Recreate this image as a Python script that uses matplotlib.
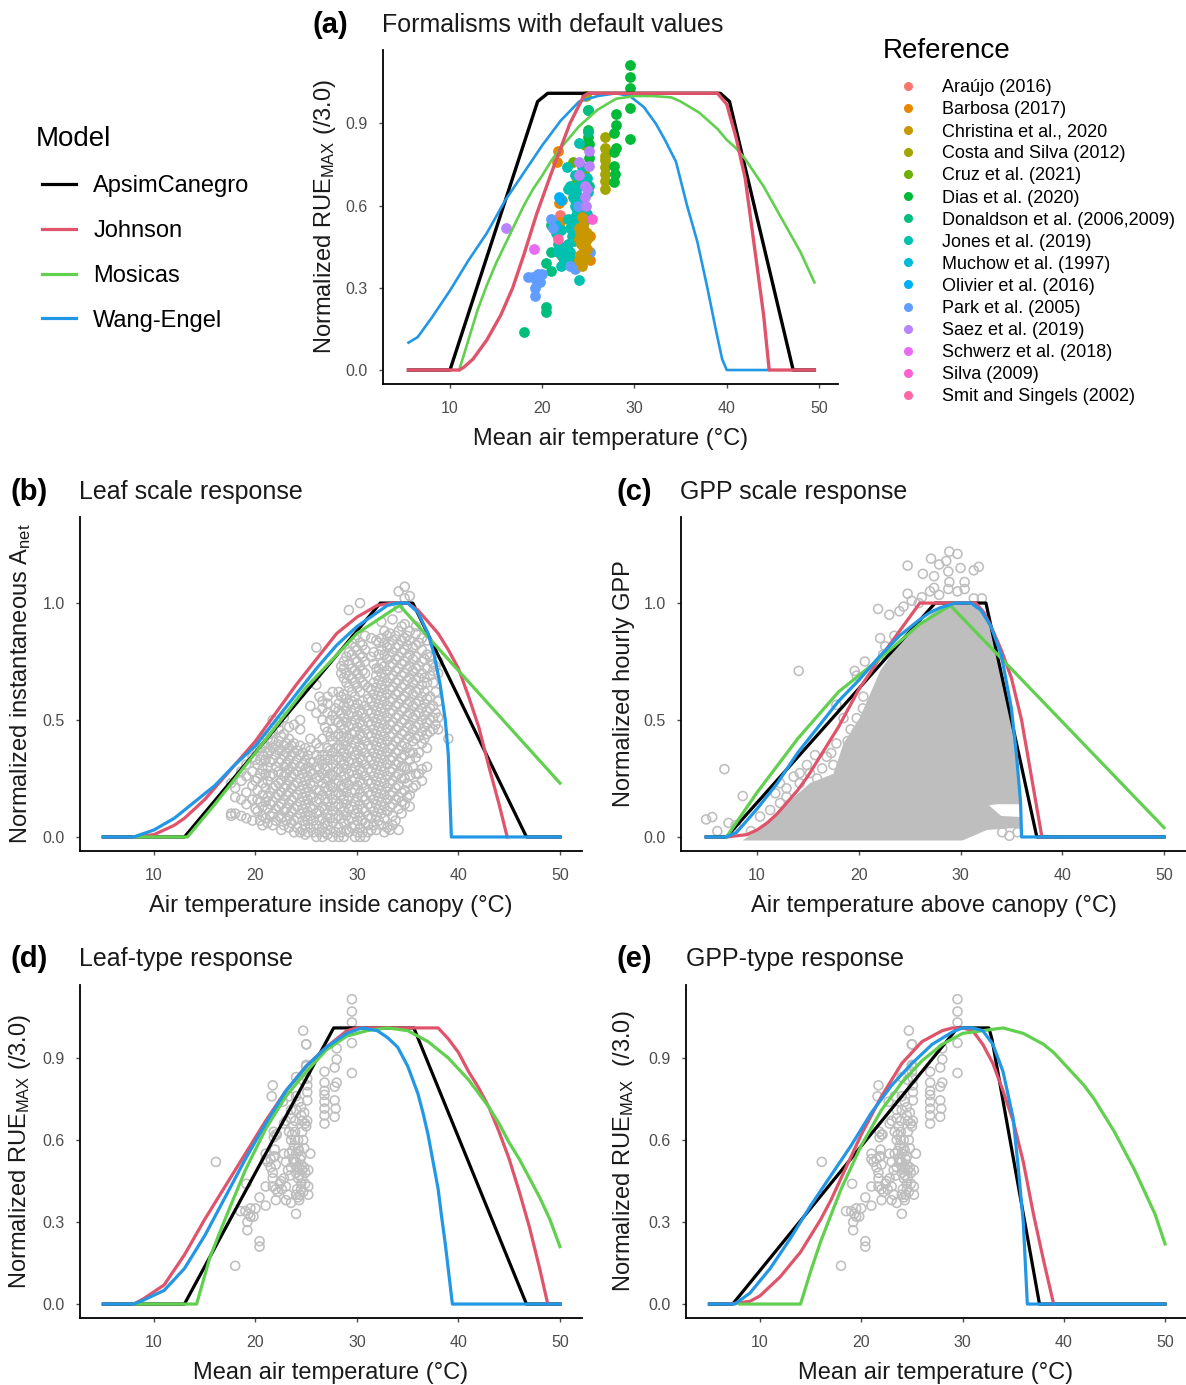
import matplotlib
matplotlib.use("Agg")
import matplotlib.pyplot as plt
from matplotlib.lines import Line2D
from matplotlib.legend_handler import HandlerLine2D

plt.rcParams['font.family'] = ['Liberation Sans', 'DejaVu Sans']
plt.rcParams['mathtext.default'] = 'regular'

W, H = 1186, 1385
GRAY = '#BEBEBE'

model_names = ['ApsimCanegro', 'Johnson', 'Mosicas', 'Wang-Engel']
model_colors = ['black', '#DF536B', '#61D04F', '#2297E6']

# (a) default values
a_black_x = [5.5, 10, 19.5, 20.6, 39.3, 40.3, 47.2, 49.5]
a_black_y = [0, 0, 0.98, 1.01, 1.01, 0.98, 0, 0]
a_red_x = [5.5, 11, 11.5, 12.5, 14, 15.5, 16.8, 18, 19.4, 21, 23, 24.5, 25, 39, 40, 41, 42, 43, 44, 44.6, 49.5]
a_red_y = [0, 0, 0.01, 0.04, 0.11, 0.2, 0.3, 0.42, 0.57, 0.72, 0.9, 1.0, 1.01, 1.01, 0.97, 0.85, 0.7, 0.45, 0.2, 0, 0]
a_green_x = [11, 12, 13, 14, 15, 16, 17, 18, 19, 20, 21, 22, 23, 24, 25, 26, 27, 28, 29, 30, 32, 34, 35, 36, 37, 38, 39, 40, 41, 42, 43, 44, 45, 46, 47, 48, 49.5]
a_green_y = [0, 0.11, 0.22, 0.31, 0.39, 0.46, 0.53, 0.6, 0.66, 0.71, 0.765, 0.81, 0.85, 0.89, 0.92, 0.95, 0.97, 0.99, 0.995, 1.0, 1.0, 0.995, 0.98, 0.96, 0.94, 0.91, 0.88, 0.84, 0.81, 0.77, 0.72, 0.67, 0.61, 0.55, 0.49, 0.43, 0.32]
a_blue_x = [5.5, 6.5, 8, 10, 12, 14, 16, 18, 20, 22, 24, 26, 28, 29.5, 31, 32.3, 33.3, 34.5, 35.7, 36.8, 37.9, 38.8, 39.5, 40, 44.5]
a_blue_y = [0.1, 0.12, 0.19, 0.29, 0.4, 0.5, 0.62, 0.72, 0.82, 0.91, 0.98, 1.0, 1.01, 1.0, 0.96, 0.9, 0.84, 0.76, 0.6, 0.47, 0.3, 0.15, 0.04, 0, 0]

# (b) leaf scale
b_black_x = [5, 13, 32.3, 35.5, 46.7, 50]
b_black_y = [0, 0, 1.0, 1.0, 0, 0]
b_red_x = [8, 10, 11, 12, 13, 14, 15, 16, 18, 20, 22, 24, 26, 28, 30, 32, 33.5, 35, 36, 37, 38, 39, 40, 41, 42, 43, 44, 44.8]
b_red_y = [0, 0.01, 0.03, 0.05, 0.08, 0.12, 0.16, 0.21, 0.31, 0.41, 0.53, 0.65, 0.76, 0.87, 0.94, 0.99, 1.0, 1.0, 0.97, 0.92, 0.87, 0.8, 0.72, 0.6, 0.47, 0.3, 0.14, 0]
b_green_x = [8, 13.3, 16, 20, 25, 30, 34.2, 50]
b_green_y = [0, 0, 0.14, 0.36, 0.64, 0.87, 0.99, 0.23]
b_blue_x = [5, 8, 9, 10, 11, 12, 13, 14, 16, 18, 20, 22, 24, 26, 28, 30, 32, 33, 34, 35, 36, 37, 37.6, 38.2, 38.7, 39, 39.3, 50]
b_blue_y = [0, 0, 0.015, 0.03, 0.055, 0.08, 0.115, 0.15, 0.22, 0.31, 0.39, 0.5, 0.61, 0.72, 0.82, 0.9, 0.96, 0.99, 1.0, 1.0, 0.96, 0.87, 0.78, 0.65, 0.5, 0.35, 0, 0]

# (c) GPP scale
c_black_x = [5, 7, 27.5, 32.5, 37.5, 50]
c_black_y = [0, 0, 1.0, 1.0, 0, 0]
c_red_x = [7, 8, 9, 10, 11, 12, 13, 14, 15, 16, 17, 18, 20, 22, 24, 25, 26, 31.5, 32.3, 33, 34, 35, 36, 37, 38]
c_red_y = [0, 0.005, 0.01, 0.03, 0.06, 0.1, 0.15, 0.2, 0.26, 0.33, 0.4, 0.47, 0.63, 0.76, 0.88, 0.94, 1.0, 1.0, 0.96, 0.9, 0.8, 0.68, 0.5, 0.25, 0]
c_green_x = [7, 10, 14, 18, 22, 26, 29, 50]
c_green_y = [0.0, 0.19, 0.42, 0.62, 0.76, 0.91, 0.99, 0.04]
c_blue_x = [5, 7, 8, 10, 12, 14, 16, 18, 20, 22, 24, 26, 27, 28, 29.5, 31, 32, 33, 34, 35, 35.5, 35.9, 36, 50]
c_blue_y = [0, 0, 0.02, 0.12, 0.23, 0.36, 0.47, 0.58, 0.67, 0.77, 0.86, 0.93, 0.96, 0.98, 1.0, 1.0, 0.97, 0.9, 0.78, 0.55, 0.35, 0.15, 0, 0]

# (d) leaf type
d_black_x = [5, 13, 27.7, 35.6, 46.7, 50]
d_black_y = [0, 0, 1.01, 1.01, 0, 0]
d_red_x = [8, 9, 11, 13, 15, 17, 19, 21, 23, 25, 27, 29, 30, 38, 39, 40, 41, 42, 43, 44, 45, 46, 47, 48, 48.8]
d_red_y = [0, 0.02, 0.07, 0.18, 0.31, 0.43, 0.55, 0.67, 0.78, 0.87, 0.94, 1.0, 1.01, 1.01, 0.97, 0.92, 0.85, 0.79, 0.72, 0.63, 0.53, 0.41, 0.28, 0.13, 0]
d_green_x = [8, 14.2, 15.5, 17, 19, 21, 23, 25, 27, 29, 31, 33, 35, 37, 38, 39, 40, 41, 42, 43, 44, 45, 46, 47, 48, 49, 50]
d_green_y = [0, 0, 0.17, 0.31, 0.49, 0.64, 0.76, 0.85, 0.93, 0.98, 1.0, 1.01, 1.0, 0.96, 0.93, 0.9, 0.86, 0.82, 0.77, 0.72, 0.66, 0.59, 0.53, 0.46, 0.39, 0.31, 0.21]
d_blue_x = [5, 8, 9, 11, 13, 15, 17, 19, 21, 23, 25, 27, 29, 30.5, 32, 33, 34, 35, 35.5, 36, 36.5, 37, 37.5, 38, 38.3, 38.7, 39.4, 50]
d_blue_y = [0, 0, 0.015, 0.05, 0.13, 0.25, 0.39, 0.53, 0.66, 0.78, 0.87, 0.94, 0.99, 1.01, 1.0, 0.975, 0.94, 0.87, 0.82, 0.77, 0.7, 0.62, 0.52, 0.42, 0.33, 0.22, 0, 0]

# (e) GPP type
e_black_x = [5, 7.3, 29.5, 32.6, 32.9, 37.6, 50]
e_black_y = [0, 0, 1.01, 1.01, 0.97, 0, 0]
e_red_x = [7, 9, 10, 12, 14, 15, 16, 17, 18, 19, 20, 21, 22, 23, 24, 25, 26, 27, 28, 29, 30, 31, 32, 33, 34, 35, 36, 37, 38, 39]
e_red_y = [0, 0.01, 0.03, 0.1, 0.19, 0.25, 0.31, 0.38, 0.46, 0.54, 0.62, 0.69, 0.76, 0.82, 0.88, 0.92, 0.96, 0.98, 1.0, 1.01, 1.01, 1.0, 0.95, 0.88, 0.78, 0.67, 0.52, 0.33, 0.16, 0]
e_green_x = [8, 14, 15, 16, 18, 20, 22, 24, 26, 28, 30, 32, 34, 35, 36, 37, 38, 39, 40, 41, 42, 43, 44, 45, 46, 47, 48, 49, 50]
e_green_y = [0, 0, 0.12, 0.23, 0.42, 0.58, 0.71, 0.81, 0.89, 0.95, 0.99, 1.0, 1.01, 1.0, 0.99, 0.97, 0.95, 0.92, 0.88, 0.84, 0.8, 0.75, 0.69, 0.63, 0.56, 0.49, 0.41, 0.33, 0.22]
e_blue_x = [5, 7.5, 9, 11, 13, 15, 17, 19, 21, 23, 25, 27, 29, 30, 31, 32, 33, 34, 35, 35.5, 36, 36.4, 50]
e_blue_y = [0, 0, 0.04, 0.13, 0.24, 0.36, 0.47, 0.58, 0.7, 0.8, 0.88, 0.95, 0.995, 1.01, 1.01, 1.0, 0.95, 0.85, 0.68, 0.5, 0.3, 0, 0]

# observations per reference
ref_names = ['Araújo (2016)', 'Barbosa (2017)', 'Christina et al., 2020', 'Costa and Silva (2012)',
             'Cruz et al. (2021)', 'Dias et al. (2020)', 'Donaldson et al. (2006,2009)', 'Jones et al. (2019)',
             'Muchow et al. (1997)', 'Olivier et al. (2016)', 'Park et al. (2005)', 'Saez et al. (2019)',
             'Schwerz et al. (2018)', 'Silva (2009)', 'Smit and Singels (2002)']
ref_colors = ['#F8766D', '#E58700', '#C99800', '#A3A500', '#6BB100', '#00BA38', '#00BF7D', '#00C0AF',
              '#00BCD8', '#00B0F6', '#619CFF', '#B983FF', '#E76BF3', '#FD61D1', '#FF67A4']
ref_x = [
    [21.9, 21.8],
    [21.7, 21.6, 21.8, 22.1, 21.9, 24.2, 22.0, 25.2, 25.2],
    [24.0, 24.3, 24.6, 24.0, 24.4, 24.8, 24.2, 24.5, 24.1, 24.7, 24.2, 24.5, 24.0, 24.3, 24.6, 24.3,
     24.1, 24.5, 24.9, 24.3, 24.4, 24.9],
    [26.8, 26.8, 26.8, 26.8, 26.8, 26.8, 26.8, 26.8, 24.7],
    [24.6, 23.3, 24.5, 23.5, 23.3],
    [29.5, 29.5, 29.5, 29.5, 29.5, 28.0, 28.0, 27.8, 28.0, 27.8, 27.8, 27.9, 27.8, 25.0, 25.0, 25.0, 25.1, 25.1],
    [18.0, 20.4, 20.4, 21.0, 20.4, 21.0, 21.0, 25.0, 25.0, 25.1],
    [24.0, 22.0, 21.7, 21.7, 22.2, 22.8, 23.0, 22.0, 22.8, 23.0, 23.5, 24.0, 24.5, 24.8, 23.5, 23.6, 23.7,
     23.8, 22.8, 23.0, 24.5, 23.5, 22.7, 24.0, 25.0, 24.8, 23.4, 23.9, 24.2, 23.7, 23.2, 22.5, 22.4, 23.2, 21.5,
     23.9, 23.3, 24.3, 23.6, 22.6],
    [21.5, 23.8],
    [21.8, 22.0],
    [19.0, 18.5, 19.5, 20.0, 19.3, 19.8, 19.2, 19.2, 19.5, 21.0, 21.2, 23.0, 23.5, 25.2, 23.9],
    [16.1, 24.0, 24.0, 25.1, 25.1, 24.6, 24.9, 24.6, 24.7],
    [19.1],
    [25.4],
    [21.7],
]
ref_y = [
    [0.565, 0.54],
    [0.8, 0.76, 0.61, 0.62, 0.54, 0.57, 0.42, 0.49, 0.4],
    [0.52, 0.5, 0.49, 0.48, 0.53, 0.5, 0.46, 0.44, 0.42, 0.41, 0.39, 0.42, 0.4, 0.56, 0.46, 0.38,
     0.5, 0.51, 0.48, 0.47, 0.4, 0.44],
    [0.85, 0.81, 0.78, 0.765, 0.74, 0.715, 0.69, 0.66, 1.0],
    [0.82, 0.76, 0.72, 0.68, 0.55],
    [1.115, 1.07, 1.03, 0.955, 0.845, 0.935, 0.895, 0.865, 0.81, 0.795, 0.745, 0.715, 0.685, 0.95, 0.875, 0.85, 0.825, 0.775],
    [0.14, 0.23, 0.21, 0.36, 0.39, 0.43, 0.53, 0.95, 0.87, 0.67],
    [0.33, 0.38, 0.43, 0.46, 0.41, 0.46, 0.43, 0.51, 0.55, 0.52, 0.5, 0.55, 0.54, 0.57, 0.6, 0.62, 0.65,
     0.58, 0.66, 0.67, 0.69, 0.71, 0.74, 0.83, 0.65, 0.7, 0.47, 0.63, 0.6, 0.53, 0.49, 0.45, 0.44, 0.4, 0.5,
     0.67, 0.63, 0.74, 0.56, 0.42],
    [0.53, 0.52],
    [0.63, 0.62],
    [0.34, 0.34, 0.35, 0.35, 0.33, 0.32, 0.3, 0.27, 0.32, 0.55, 0.52, 0.38, 0.37, 0.43, 0.6],
    [0.52, 0.76, 0.71, 0.8, 0.745, 0.67, 0.66, 0.63, 0.6],
    [0.44],
    [0.55],
    [0.48],
]
draw_order = [0, 1, 3, 4, 5, 6, 7, 8, 9, 10, 11, 12, 13, 14, 2]

# instantaneous leaf measurements, one list of values per temperature column
leaf_t = [17.6, 18.0, 18.6, 19.1, 19.7, 20.2, 20.7, 21.2, 21.7, 22.3, 22.8, 23.3, 23.8, 24.4, 24.9, 25.4, 26.0, 26.6,
          27.1, 27.6, 28.2, 28.7, 29.2, 29.8, 30.3, 30.8, 31.4, 31.9, 32.4, 33.0, 33.5, 34.1, 34.7, 35.2, 35.8, 36.4,
          36.9, 37.5, 38.0, 39.0]
leaf_y = [
    [0.23, 0.09, 0.1],
    [0.17, 0.1, 0.21],
    [0.09, 0.16, 0.24, 0.28],
    [0.08, 0.14, 0.19, 0.26, 0.31],
    [0.07, 0.16, 0.22, 0.28, 0.34],
    [0.16, 0.11, 0.2, 0.25, 0.31, 0.37],
    [0.05, 0.13, 0.09, 0.18, 0.23, 0.29, 0.35, 0.4],
    [0.06, 0.12, 0.17, 0.24, 0.3, 0.36, 0.42],
    [0.05, 0.1, 0.15, 0.21, 0.27, 0.33, 0.38, 0.41, 0.45, 0.5],
    [0.09, 0.13, 0.18, 0.23, 0.28, 0.32, 0.37, 0.41, 0.46, 0.49],
    [0.05, 0.11, 0.16, 0.21, 0.26, 0.3, 0.35, 0.39, 0.44, 0.51],
    [0.04, 0.09, 0.14, 0.19, 0.24, 0.29, 0.33, 0.38, 0.42, 0.47],
    [0.02, 0.07, 0.12, 0.17, 0.22, 0.27, 0.31, 0.36, 0.4, 0.48],
    [0.02, 0.1, 0.15, 0.2, 0.25, 0.3, 0.35, 0.39, 0.46, 0.5],
    [0.01, 0.05, 0.09, 0.14, 0.19, 0.24, 0.29, 0.33, 0.38],
    [0.04, 0.09, 0.13, 0.18, 0.23, 0.28, 0.32, 0.37, 0.42, 0.56],
    [0.0, 0.05, 0.1, 0.15, 0.2, 0.25, 0.3, 0.35, 0.4, 0.53, 0.65, 0.81],
    [0.0, 0.04, 0.08, 0.13, 0.18, 0.23, 0.27, 0.31, 0.35, 0.42, 0.5, 0.55, 0.58],
    [0.01, 0.05, 0.1, 0.15, 0.2, 0.25, 0.3, 0.35, 0.38, 0.45, 0.53, 0.57, 0.6],
    [0.0, 0.06, 0.11, 0.16, 0.21, 0.26, 0.31, 0.36, 0.41, 0.46, 0.52, 0.62],
    [0.0, 0.04, 0.09, 0.14, 0.19, 0.24, 0.29, 0.34, 0.39, 0.44, 0.49, 0.54, 0.57, 0.62],
    [0.0, 0.06, 0.11, 0.16, 0.21, 0.26, 0.31, 0.36, 0.41, 0.46, 0.51, 0.56, 0.61, 0.68, 0.72, 0.75],
    [0.02, 0.07, 0.12, 0.17, 0.22, 0.27, 0.32, 0.37, 0.42, 0.47, 0.52, 0.57, 0.64, 0.69, 0.74, 0.79, 0.97],
    [0.0, 0.05, 0.1, 0.15, 0.2, 0.25, 0.3, 0.35, 0.4, 0.45, 0.5, 0.55, 0.6, 0.66, 0.71, 0.76, 0.81, 0.85],
    [0.0, 0.04, 0.09, 0.14, 0.19, 0.24, 0.29, 0.34, 0.39, 0.44, 0.49, 0.54, 0.62, 0.68, 0.73, 0.78, 0.83, 1.0],
    [0.0, 0.06, 0.11, 0.16, 0.21, 0.26, 0.31, 0.36, 0.41, 0.46, 0.51, 0.56, 0.65, 0.7, 0.75, 0.8, 0.86],
    [0.03, 0.08, 0.13, 0.18, 0.23, 0.28, 0.33, 0.38, 0.43, 0.48, 0.53, 0.58, 0.63, 0.77, 0.85],
    [0.03, 0.09, 0.14, 0.19, 0.24, 0.29, 0.34, 0.39, 0.44, 0.49, 0.54, 0.59, 0.64, 0.69, 0.72, 0.84],
    [0.05, 0.1, 0.15, 0.2, 0.25, 0.3, 0.35, 0.4, 0.45, 0.5, 0.55, 0.6, 0.65, 0.7, 0.74, 0.8, 0.85, 0.92],
    [0.04, 0.11, 0.16, 0.21, 0.26, 0.31, 0.36, 0.41, 0.46, 0.51, 0.56, 0.61, 0.66, 0.71, 0.76, 0.81, 0.86],
    [0.05, 0.09, 0.14, 0.19, 0.24, 0.29, 0.34, 0.39, 0.44, 0.49, 0.54, 0.59, 0.64, 0.69, 0.74, 0.79, 0.84, 0.93],
    [0.03, 0.12, 0.17, 0.22, 0.27, 0.32, 0.37, 0.42, 0.47, 0.52, 0.57, 0.62, 0.67, 0.72, 0.77, 0.82, 0.88, 0.98, 1.05],
    [0.14, 0.2, 0.25, 0.3, 0.35, 0.4, 0.45, 0.5, 0.55, 0.6, 0.65, 0.7, 0.75, 0.8, 0.85, 0.91, 1.02, 1.07],
    [0.13, 0.18, 0.26, 0.33, 0.36, 0.43, 0.48, 0.53, 0.58, 0.63, 0.68, 0.73, 0.78, 0.84, 0.88, 1.03],
    [0.22, 0.27, 0.34, 0.42, 0.47, 0.52, 0.57, 0.62, 0.67, 0.72, 0.77, 0.82, 0.87, 0.9],
    [0.24, 0.29, 0.4, 0.45, 0.5, 0.55, 0.6, 0.65, 0.7, 0.75, 0.8, 0.85],
    [0.3, 0.38, 0.44, 0.49, 0.54, 0.59, 0.66, 0.72, 0.78, 0.84],
    [0.46, 0.51, 0.56, 0.66, 0.71, 0.74],
    [0.46, 0.51, 0.58, 0.7, 0.75],
    [0.42],
]
leaf2_t = [20.0, 20.45, 21.0, 21.45, 22.0, 22.55, 23.05, 23.55, 24.1, 24.65, 25.15, 25.7, 26.3, 26.85, 27.35, 27.9,
           28.45, 28.95, 29.5, 30.05, 30.55, 31.1, 31.65, 32.15, 32.7, 33.25, 33.8, 34.4, 34.95, 35.5, 36.1, 36.65,
           37.2, 37.75]
leaf2_y = [
    [0.12, 0.24, 0.33],
    [0.07, 0.15, 0.27, 0.33, 0.38],
    [0.08, 0.15, 0.21, 0.27, 0.33, 0.38],
    [0.09, 0.14, 0.19, 0.26, 0.32, 0.37, 0.44],
    [0.07, 0.12, 0.17, 0.22, 0.3, 0.35, 0.39],
    [0.03, 0.08, 0.14, 0.19, 0.24, 0.27, 0.33, 0.37, 0.43],
    [0.07, 0.12, 0.18, 0.22, 0.27, 0.31, 0.36, 0.4],
    [0.06, 0.11, 0.16, 0.21, 0.26, 0.3, 0.35, 0.39],
    [0.04, 0.08, 0.13, 0.18, 0.23, 0.28, 0.33, 0.37],
    [0.03, 0.07, 0.12, 0.17, 0.22, 0.27, 0.31, 0.36],
    [0.02, 0.07, 0.11, 0.16, 0.21, 0.26, 0.3, 0.35],
    [0.02, 0.07, 0.12, 0.17, 0.22, 0.27, 0.32],
    [0.02, 0.07, 0.11, 0.16, 0.2, 0.26, 0.29, 0.33, 0.38, 0.6],
    [0.02, 0.06, 0.12, 0.16, 0.21, 0.25, 0.29, 0.33, 0.47],
    [0.03, 0.08, 0.13, 0.18, 0.22, 0.27, 0.33, 0.37, 0.43, 0.5],
    [0.02, 0.08, 0.13, 0.18, 0.23, 0.28, 0.33, 0.38, 0.43, 0.5, 0.55],
    [0.02, 0.08, 0.13, 0.18, 0.22, 0.28, 0.33, 0.38, 0.43, 0.48, 0.53, 0.6, 0.7, 0.73],
    [0.03, 0.09, 0.14, 0.19, 0.23, 0.29, 0.34, 0.39, 0.43, 0.49, 0.54, 0.59, 0.66, 0.7, 0.77],
    [0.04, 0.08, 0.13, 0.19, 0.24, 0.28, 0.33, 0.38, 0.44, 0.48, 0.53, 0.58, 0.62, 0.68, 0.72, 0.78, 0.83],
    [0.02, 0.07, 0.12, 0.17, 0.22, 0.27, 0.32, 0.37, 0.42, 0.47, 0.52, 0.57, 0.64, 0.7, 0.75, 0.8],
    [0.02, 0.07, 0.12, 0.17, 0.23, 0.28, 0.33, 0.38, 0.43, 0.48, 0.53, 0.58, 0.66, 0.71, 0.77, 0.82],
    [0.02, 0.05, 0.09, 0.14, 0.19, 0.24, 0.29, 0.34, 0.39, 0.44, 0.49, 0.54, 0.59, 0.64],
    [0.05, 0.11, 0.16, 0.21, 0.26, 0.31, 0.36, 0.41, 0.46, 0.51, 0.56, 0.61, 0.66, 0.74, 0.79],
    [0.07, 0.12, 0.17, 0.22, 0.27, 0.32, 0.37, 0.42, 0.47, 0.52, 0.57, 0.62, 0.67, 0.72, 0.78, 0.83],
    [0.02, 0.08, 0.13, 0.18, 0.23, 0.28, 0.33, 0.38, 0.43, 0.48, 0.53, 0.58, 0.63, 0.68, 0.73, 0.78, 0.83, 0.88],
    [0.03, 0.13, 0.18, 0.23, 0.28, 0.33, 0.38, 0.43, 0.48, 0.53, 0.58, 0.63, 0.68, 0.73, 0.77, 0.82, 0.87],
    [0.07, 0.16, 0.21, 0.26, 0.31, 0.36, 0.41, 0.46, 0.51, 0.56, 0.61, 0.66, 0.71, 0.76, 0.81, 0.86],
    [0.1, 0.15, 0.19, 0.25, 0.3, 0.34, 0.39, 0.44, 0.49, 0.54, 0.59, 0.64, 0.69, 0.74, 0.79, 0.84, 0.9],
    [0.17, 0.23, 0.29, 0.38, 0.42, 0.47, 0.52, 0.57, 0.62, 0.67, 0.72, 0.77, 0.82, 0.86],
    [0.21, 0.3, 0.36, 0.41, 0.46, 0.51, 0.56, 0.61, 0.66, 0.71, 0.76, 0.81],
    [0.27, 0.36, 0.43, 0.48, 0.53, 0.58, 0.63, 0.68, 0.73, 0.83],
    [0.42, 0.47, 0.52, 0.57, 0.62, 0.68, 0.76],
    [0.45, 0.5, 0.55, 0.6, 0.69, 0.77],
    [0.48, 0.53, 0.62, 0.73],
]

# hourly GPP: outline of the solid cloud of points, then the ones that stand apart from it
gpp_cloud_x = [8.6, 30.2, 32.6, 36, 36, 34, 32.8, 33.5, 35.8, 35.6, 35.4, 34.9, 34.2, 33.6, 33, 32, 30.5, 29, 27.5, 26,
               24, 22.1, 20.1, 18.5, 17.5, 15.2, 12.6, 10.3]
gpp_cloud_y = [-0.015, -0.015, 0.03, 0.04, 0.085, 0.09, 0.135, 0.14, 0.14, 0.3, 0.37, 0.51, 0.66, 0.8, 0.9, 0.97, 1.0,
               1.0, 0.97, 0.91, 0.83, 0.71, 0.51, 0.4, 0.27, 0.23, 0.13, 0.04]
gpp_x = [5.0, 5.6, 6.8, 8.6, 14.1, 7.2, 6.1, 7.9, 24.8, 27.1, 27.9, 28.6, 28.9, 29.7, 26.3, 27.4, 28.8, 30.0, 31.3, 31.8,
         28.9, 30.4, 27.4, 27.0, 24.8, 28.8, 29.7, 30.4, 31.3, 25.2, 25.9, 21.9, 23.0, 24.0, 24.4, 32.1, 26.2, 27.9,
         22.1, 23.5, 22.6, 20.6, 19.6, 19.8, 22.4, 17.8, 20.4, 34.1, 34.8, 35.6,
         12.26, 12.9, 13.6, 14.2, 14.9, 15.7, 16.85, 17.5, 17.3, 18.5, 19.8, 19.8, 20.45, 15.9, 14.2, 12.26, 11.3,
         10.3, 12.9, 11.8, 15.2, 16.4, 17.8, 9.4, 19.2, 18.9]
gpp_y = [0.075, 0.085, 0.29, 0.175, 0.71, 0.06, 0.025, 0.05, 1.16, 1.19, 1.165, 1.18, 1.22, 1.21, 1.125, 1.115, 1.135, 1.15,
         1.14, 1.155, 1.09, 1.09, 1.065, 1.05, 1.04, 1.06, 1.05, 1.06, 1.02, 1.01, 1.0, 0.975, 0.95, 0.965, 0.985, 1.02,
         1.025, 1.035, 0.85, 0.86, 0.815, 0.75, 0.71, 0.69, 0.78, 0.565, 0.55, 0.02, 0.005, 0.02,
         0.23, 0.208, 0.258, 0.273, 0.308, 0.35, 0.343, 0.308, 0.359, 0.508, 0.508, 0.45, 0.6, 0.25, 0.23, 0.145, 0.115,
         0.087, 0.172, 0.187, 0.273, 0.293, 0.4, 0.025, 0.46, 0.41]

all_ref_x = [v for group in ref_x for v in group]
all_ref_y = [v for group in ref_y for v in group]
leaf_x = [t for t, ys in zip(leaf_t + leaf2_t, leaf_y + leaf2_y) for _ in ys]
leaf_v = [v for ys in leaf_y + leaf2_y for v in ys]


def make_axes(left, right, top, bottom, xlim, ylim, yticks):
    ax = fig.add_axes([left / W, 1 - bottom / H, (right - left) / W, (bottom - top) / H])
    ax.set_xlim(*xlim)
    ax.set_ylim(*ylim)
    ax.set_xticks([10, 20, 30, 40, 50])
    ax.set_yticks(yticks)
    ax.set_yticklabels(['%.1f' % v for v in yticks])
    ax.spines['top'].set_visible(False)
    ax.spines['right'].set_visible(False)
    ax.spines['left'].set_linewidth(1.3)
    ax.spines['bottom'].set_linewidth(1.3)
    ax.tick_params(labelsize=11.5, colors='#4D4D4D', length=3, width=1)
    ax.tick_params(axis='x', pad=9.5)
    ax.tick_params(axis='y', pad=8)
    return ax


def set_labels(ax, xlabel, ylabel, x_off, y_off):
    ax.set_xlabel(xlabel, fontsize=17, va='center', color='#1a1a1a')
    ax.set_ylabel(ylabel, fontsize=17, va='center', color='#1a1a1a')
    ax.xaxis.set_label_coords(0.5, x_off)
    ax.yaxis.set_label_coords(y_off, 0.5)


def heading(x_lab, x_title, y, letter, title):
    fig.text(x_lab / W, 1 - y / H, letter, fontsize=21, fontweight='bold', va='center')
    fig.text(x_title / W, 1 - y / H, title, fontsize=18, va='center', color='#1a1a1a')


def draw_curves(ax, xs, ys):
    for x, y, c in zip(xs, ys, model_colors):
        ax.plot(x, y, color=c, lw=2.3, solid_joinstyle='round')


def hollow(ax, x, y):
    ax.scatter(x, y, s=42, facecolors='none', edgecolors=GRAY, linewidths=1.15)


fig = plt.figure(figsize=(W / 100, H / 100), dpi=100)

ax_a = make_axes(383, 838, 50, 384, (2.74, 52.06), (-0.051, 1.168), [0, 0.3, 0.6, 0.9])
for i in draw_order:
    ax_a.scatter(ref_x[i], ref_y[i], s=60, color=ref_colors[i], linewidths=0)
ax_a.plot(a_black_x, a_black_y, color=model_colors[0], lw=2.4)
ax_a.plot(a_blue_x, a_blue_y, color=model_colors[3], lw=1.9)
ax_a.plot(a_green_x, a_green_y, color=model_colors[2], lw=1.9)
ax_a.plot(a_red_x, a_red_y, color=model_colors[1], lw=2.4)
set_labels(ax_a, 'Mean air temperature (°C)', 'Normalized RUE$_{MAX}$ (/3.0)', -0.165, -0.128)
heading(313, 382, 25, '(a)', 'Formalisms with default values')

ax_b = make_axes(80, 582, 517, 851, (2.71, 52.17), (-0.06, 1.368), [0, 0.5, 1.0])
hollow(ax_b, leaf_x, leaf_v)
draw_curves(ax_b, [b_black_x, b_red_x, b_green_x, b_blue_x], [b_black_y, b_red_y, b_green_y, b_blue_y])
set_labels(ax_b, 'Air temperature inside canopy (°C)', 'Normalized instantaneous A$_{net}$', -0.165, -0.119)
heading(11, 79, 492, '(b)', 'Leaf scale response')

ax_c = make_axes(681, 1186, 517, 851, (2.53, 52.16), (-0.06, 1.368), [0, 0.5, 1.0])
ax_c.fill(gpp_cloud_x, gpp_cloud_y, color=GRAY, lw=0)
hollow(ax_c, gpp_x, gpp_y)
draw_curves(ax_c, [c_black_x, c_red_x, c_green_x, c_blue_x], [c_black_y, c_red_y, c_green_y, c_blue_y])
set_labels(ax_c, 'Air temperature above canopy (°C)', 'Normalized hourly GPP', -0.165, -0.113)
heading(616, 680, 492, '(c)', 'GPP scale response')

ax_d = make_axes(80, 582, 985, 1318, (2.71, 52.17), (-0.051, 1.167), [0, 0.3, 0.6, 0.9])
hollow(ax_d, all_ref_x, all_ref_y)
draw_curves(ax_d, [d_black_x, d_red_x, d_green_x, d_blue_x], [d_black_y, d_red_y, d_green_y, d_blue_y])
set_labels(ax_d, 'Mean air temperature (°C)', 'Normalized RUE$_{MAX}$ (/3.0)', -0.165, -0.119)
heading(11, 79, 959, '(d)', 'Leaf-type response')

ax_e = make_axes(686, 1186, 985, 1318, (2.69, 52.07), (-0.051, 1.167), [0, 0.3, 0.6, 0.9])
hollow(ax_e, all_ref_x, all_ref_y)
draw_curves(ax_e, [e_black_x, e_red_x, e_green_x, e_blue_x], [e_black_y, e_red_y, e_green_y, e_blue_y])
set_labels(ax_e, 'Mean air temperature (°C)', 'Normalized RUE$_{MAX}$  (/3.0)', -0.165, -0.124)
heading(616, 686, 959, '(e)', 'GPP-type response')

model_handles = [Line2D([], [], color=c, lw=2.3) for c in model_colors]
leg = fig.legend(model_handles, model_names, loc='upper left', bbox_to_anchor=(29 / W, 1 - 119 / H),
                 frameon=False, fontsize=17, title='Model', title_fontsize=20, alignment='left',
                 handlelength=1.7, handletextpad=0.72, labelspacing=0.97, borderaxespad=0, borderpad=0.3,
                 handler_map={Line2D: HandlerLine2D(xpad=0.27)})
leg._legend_box.sep = 16.5

ref_handles = [Line2D([], [], color=c, marker='o', ms=6.5, mew=0, ls='') for c in ref_colors]
leg2 = fig.legend(ref_handles, ref_names, loc='upper left', bbox_to_anchor=(877 / W, 1 - 33 / H),
                  frameon=False, fontsize=13, title='Reference', title_fontsize=20, alignment='left',
                  handlelength=2.8, handletextpad=0.5, labelspacing=0.28, borderaxespad=0, borderpad=0.3)
leg2._legend_box.sep = 10.7

fig.savefig('out.png', dpi=100)
